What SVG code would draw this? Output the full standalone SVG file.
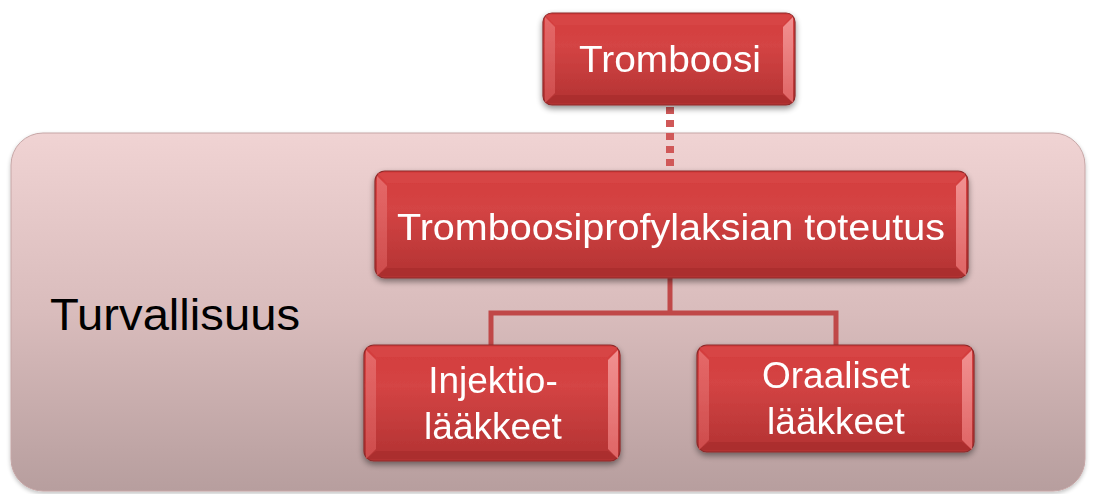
<svg xmlns="http://www.w3.org/2000/svg" width="1096" height="494" viewBox="0 0 1096 494">
  <defs>
    <linearGradient id="bgGrad" x1="0" y1="0" x2="0" y2="1">
      <stop offset="0" stop-color="#f0d3d3"/>
      <stop offset="0.5" stop-color="#d9bcbc"/>
      <stop offset="1" stop-color="#b79e9e"/>
    </linearGradient>
    <linearGradient id="redGrad" x1="0" y1="0" x2="0" y2="1">
      <stop offset="0" stop-color="#d43c3c"/>
      <stop offset="0.35" stop-color="#d44444"/>
      <stop offset="1" stop-color="#b23232"/>
    </linearGradient>
    <linearGradient id="leftBevel" x1="0" y1="0" x2="0" y2="1">
      <stop offset="0" stop-color="#e87070"/>
      <stop offset="1" stop-color="#d25050"/>
    </linearGradient>
    <linearGradient id="rightBevel" x1="0" y1="0" x2="0" y2="1">
      <stop offset="0" stop-color="#f49a9a"/>
      <stop offset="1" stop-color="#e46a6a"/>
    </linearGradient>
    <filter id="shadow" x="-10%" y="-10%" width="120%" height="130%">
      <feGaussianBlur in="SourceAlpha" stdDeviation="3"/>
      <feOffset dx="0" dy="3" result="b"/>
      <feComponentTransfer><feFuncA type="linear" slope="0.45"/></feComponentTransfer>
      <feMerge><feMergeNode/><feMergeNode in="SourceGraphic"/></feMerge>
    </filter>
    <filter id="bgShadow" x="-5%" y="-5%" width="110%" height="110%">
      <feGaussianBlur in="SourceAlpha" stdDeviation="2"/>
      <feOffset dx="0" dy="2"/>
      <feComponentTransfer><feFuncA type="linear" slope="0.25"/></feComponentTransfer>
      <feMerge><feMergeNode/><feMergeNode in="SourceGraphic"/></feMerge>
    </filter>
  </defs>
  <style>
    .box { fill: url(#redGrad); stroke: #8e2a2a; stroke-width: 1.2; }
    .bl { fill: url(#leftBevel); opacity: 0.85; }
    .br { fill: url(#rightBevel); opacity: 0.9; }
    .bt { fill: #d84a4a; opacity: 0.6; }
    .bb { fill: #a52a2a; opacity: 0.6; }
    .lbl { font-family: "Liberation Sans", Arial, sans-serif; fill: #ffffff; font-size: 37px; text-anchor: middle; }
    .conn { fill: none; stroke: #c04848; stroke-width: 5; }
    .dots { fill: none; stroke: #d05858; stroke-width: 8; stroke-dasharray: 7 6; }
  </style>

  <g id="background">
    <rect x="11" y="133" width="1074" height="358" rx="32" ry="32" fill="url(#bgGrad)" stroke="#c6a6a6" stroke-width="1" filter="url(#bgShadow)"/>
    <text x="50" y="330" font-family="Liberation Sans, Arial, sans-serif" font-size="44" fill="#000000" textLength="250" lengthAdjust="spacingAndGlyphs">Turvallisuus</text>
  </g>

  <g id="connectors">
    <line class="dots" x1="670" y1="107" x2="670" y2="171"/>
    <path class="conn" d="M670,278 V313 M491,345 V313 H836 V345"/>
  </g>

  <g id="node-tromboosi" filter="url(#shadow)">
    <rect class="box" x="543" y="13" width="252" height="92" rx="9"/>
    <path class="bt" d="M545,15 H793 L783,25 H555 Z"/>
    <path class="bl" d="M545,17 L555,27 V93 L545,103 Z"/>
    <path class="br" d="M793,17 L783,27 V93 L793,103 Z"/>
    <path class="bb" d="M555,95 H783 L793,103 H545 Z"/>
    <text class="lbl" x="670" y="72" textLength="182" lengthAdjust="spacingAndGlyphs">Tromboosi</text>
  </g>

  <g id="node-toteutus" filter="url(#shadow)">
    <rect class="box" x="375" y="171" width="593" height="107" rx="10"/>
    <path class="bt" d="M377,173 H966 L956,183 H387 Z"/>
    <path class="bl" d="M377,176 L387,186 V266 L377,276 Z"/>
    <path class="br" d="M966,176 L956,186 V266 L966,276 Z"/>
    <path class="bb" d="M387,268 H956 L966,276 H377 Z"/>
    <text class="lbl" x="671" y="240" textLength="548" lengthAdjust="spacingAndGlyphs">Tromboosiprofylaksian toteutus</text>
  </g>

  <g id="node-injektio" filter="url(#shadow)">
    <rect class="box" x="364" y="345" width="256" height="116" rx="10"/>
    <path class="bt" d="M366,347 H618 L608,357 H376 Z"/>
    <path class="bl" d="M366,350 L376,360 V449 L366,459 Z"/>
    <path class="br" d="M618,350 L608,360 V449 L618,459 Z"/>
    <path class="bb" d="M376,451 H608 L618,459 H366 Z"/>
    <text class="lbl" x="493" y="393">Injektio-</text>
    <text class="lbl" x="493" y="439">lääkkeet</text>
  </g>

  <g id="node-oraaliset" filter="url(#shadow)">
    <rect class="box" x="697" y="345" width="277" height="107" rx="10"/>
    <path class="bt" d="M699,347 H972 L962,357 H709 Z"/>
    <path class="bl" d="M699,350 L709,360 V440 L699,450 Z"/>
    <path class="br" d="M972,350 L962,360 V440 L972,450 Z"/>
    <path class="bb" d="M709,442 H962 L972,450 H699 Z"/>
    <text class="lbl" x="836" y="388">Oraaliset</text>
    <text class="lbl" x="836" y="434">lääkkeet</text>
  </g>
</svg>
